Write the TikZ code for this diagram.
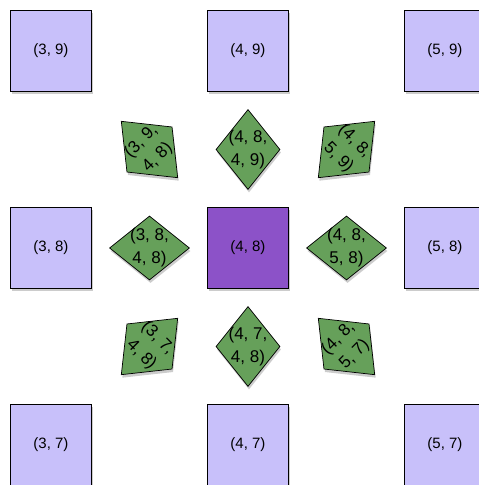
\documentclass[tikz,border=0pt]{standalone}
\usepackage{fontspec}
\setmainfont{Liberation Sans}
\usetikzlibrary{shapes.geometric,shadows,calc}

\definecolor{cellfill}{RGB}{200,192,250}
\definecolor{curfill}{RGB}{140,82,200}
\definecolor{edgefill}{RGB}{102,160,90}

\begin{document}
\begin{tikzpicture}[
  x=1pt, y=1pt,
  font=\fontsize{15}{17}\selectfont,
  shade/.style={drop shadow={shadow xshift=1pt, shadow yshift=-3pt, opacity=0.4}},
  cell/.style={rectangle, draw, line width=0.7pt, fill=cellfill,
               minimum size=81pt, inner sep=0pt, shade},
  current/.style={cell, fill=curfill},
  vedge/.style={diamond, draw, line width=0.7pt, fill=edgefill, align=center,
                inner sep=-4pt, minimum width=64pt, minimum height=80pt,
                font=\fontsize{17}{23}\selectfont, shade},
  hedge/.style={vedge, minimum width=80pt, minimum height=64pt},
]
\useasboundingbox (0,0) rectangle (479,485);
\clip (0,0) rectangle (479,485);

% grid cells
\node[cell]    (c39) at (51,434)  {(3, 9)};
\node[cell]    (c49) at (248,434) {(4, 9)};
\node[cell]    (c59) at (445,434) {(5, 9)};
\node[cell]    (c38) at (51,237)  {(3, 8)};
\node[current] (c48) at (248,237) {(4, 8)};
\node[cell]    (c58) at (445,237) {(5, 8)};
\node[cell]    (c37) at (51,40)   {(3, 7)};
\node[cell]    (c47) at (248,40)  {(4, 7)};
\node[cell]    (c57) at (445,40)  {(5, 7)};

% edges out of (4, 8)
\node[vedge]            (e4849) at ($(c48)!0.5!(c49)$) {(4, 8,\\4, 9)};
\node[vedge]            (e4748) at ($(c48)!0.5!(c47)$) {(4, 7,\\4, 8)};
\node[hedge]            (e3848) at ($(c48)!0.5!(c38)$) {(3, 8,\\4, 8)};
\node[hedge]            (e4858) at ($(c48)!0.5!(c58)$) {(4, 8,\\5, 8)};
\node[vedge, rotate=45]  (e3948) at ($(c48)!0.5!(c39)$) {(3, 9,\\4, 8)};
\node[vedge, rotate=-45] (e4859) at ($(c48)!0.5!(c59)$) {(4, 8,\\5, 9)};
\node[vedge, rotate=-45] (e3748) at ($(c48)!0.5!(c37)$) {(3, 7,\\4, 8)};
\node[vedge, rotate=45]  (e4857) at ($(c48)!0.5!(c57)$) {(4, 8,\\5, 7)};

\end{tikzpicture}
\end{document}
